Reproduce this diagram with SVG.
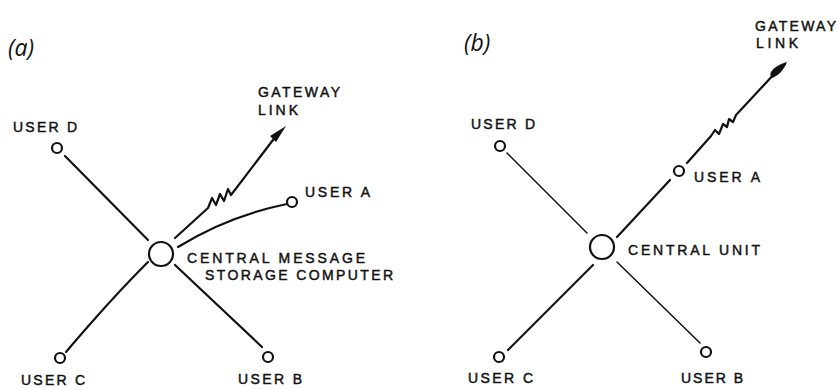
<svg xmlns="http://www.w3.org/2000/svg" width="837" height="389" viewBox="0 0 837 389">
<style>
.bg{fill:#ffffff}
.ln{fill:none;stroke:#111;stroke-width:2.2;stroke-linecap:round;stroke-linejoin:round}
.thin{fill:none;stroke:#111;stroke-width:1.5;stroke-linecap:round}
.nd{fill:#fff;stroke:#111;stroke-width:2.2}
.ctr{fill:#fff;stroke:#111;stroke-width:2.2}
.t{font-family:"Liberation Sans","DejaVu Sans",Arial,sans-serif;font-size:14px;fill:#111;stroke:#111;stroke-width:0.45}
.lab{font-family:"Open Sans","DejaVu Sans",sans-serif;font-style:italic;font-size:23px;fill:#111}
.ah{fill:#111;stroke:none}
</style>
<rect class="bg" x="0" y="0" width="837" height="389"/>

<!-- Panel (a) -->
<text class="lab" x="8" y="56">(a)</text>
<g id="a-connectors">
  <line class="ln" x1="65" y1="156" x2="148" y2="240"/>
  <path class="ln" d="M175,238 L208,208 L212,198 L216,205 L220,194 L224,201 L228,189 L231,195 L276,136"/>
  <polygon class="ah" points="286,126 270,136 276,142"/>
  <path class="ln" d="M178,247 Q228,216 287,204"/>
  <path class="ln" d="M148,262 Q110,300 66,352"/>
  <line class="ln" x1="175" y1="265" x2="262" y2="347"/>
</g>
<g id="a-center">
  <circle class="ctr" cx="161" cy="254" r="12"/>
  <text class="t" x="187" y="263" textLength="178" lengthAdjust="spacing">CENTRAL MESSAGE</text>
  <text class="t" x="205" y="280" textLength="188" lengthAdjust="spacing">STORAGE COMPUTER</text>
</g>
<g id="a-userD">
  <circle class="nd" cx="57" cy="148" r="5"/>
  <text class="t" x="13" y="132" textLength="64" lengthAdjust="spacing">USER D</text>
</g>
<g id="a-userA">
  <circle class="nd" cx="292" cy="202" r="5"/>
  <text class="t" x="305" y="197" textLength="65" lengthAdjust="spacing">USER A</text>
</g>
<g id="a-userC">
  <circle class="nd" cx="60" cy="358" r="5"/>
  <text class="t" x="21" y="385" textLength="64" lengthAdjust="spacing">USER C</text>
</g>
<g id="a-userB">
  <circle class="nd" cx="268" cy="357" r="5"/>
  <text class="t" x="238" y="384" textLength="64" lengthAdjust="spacing">USER B</text>
</g>
<g id="a-gateway">
  <text class="t" x="258" y="97" textLength="82" lengthAdjust="spacing">GATEWAY</text>
  <text class="t" x="258" y="115" textLength="40" lengthAdjust="spacing">LINK</text>
</g>

<!-- Panel (b) -->
<text class="lab" x="464" y="51">(b)</text>
<g id="b-connectors">
  <line class="thin" x1="507" y1="153" x2="587" y2="233"/>
  <line class="ln" x1="617" y1="237" x2="670" y2="180"/>
  <path class="ln" d="M687,163 L711,136 L715,130 L719,134 L723,124 L727,127 L729,119 L733,122 L736,115 L750,100 L776,72"/>
  <path class="ah" d="M787,62 C784,70 778,76 772,78 C770,76 770,74 771,72 C774,67 780,64 787,62 Z"/>
  <line class="ln" x1="593" y1="265" x2="508" y2="350"/>
  <line class="thin" x1="617" y1="262" x2="700" y2="343"/>
</g>
<g id="b-center">
  <circle class="ctr" cx="602" cy="247" r="12"/>
  <text class="t" x="628" y="255" textLength="132" lengthAdjust="spacing">CENTRAL UNIT</text>
</g>
<g id="b-userD">
  <circle class="nd" cx="500" cy="146" r="5"/>
  <text class="t" x="471" y="129" textLength="64" lengthAdjust="spacing">USER D</text>
</g>
<g id="b-userA">
  <circle class="nd" cx="679" cy="171" r="5"/>
  <text class="t" x="694" y="182" textLength="66" lengthAdjust="spacing">USER A</text>
</g>
<g id="b-userC">
  <circle class="nd" cx="499" cy="357" r="5"/>
  <text class="t" x="468" y="383" textLength="65" lengthAdjust="spacing">USER C</text>
</g>
<g id="b-userB">
  <circle class="nd" cx="706" cy="352" r="5"/>
  <text class="t" x="681" y="383" textLength="62" lengthAdjust="spacing">USER B</text>
</g>
<g id="b-gateway">
  <text class="t" x="755" y="31" textLength="81" lengthAdjust="spacing">GATEWAY</text>
  <text class="t" x="756" y="48" textLength="42" lengthAdjust="spacing">LINK</text>
</g>
</svg>
